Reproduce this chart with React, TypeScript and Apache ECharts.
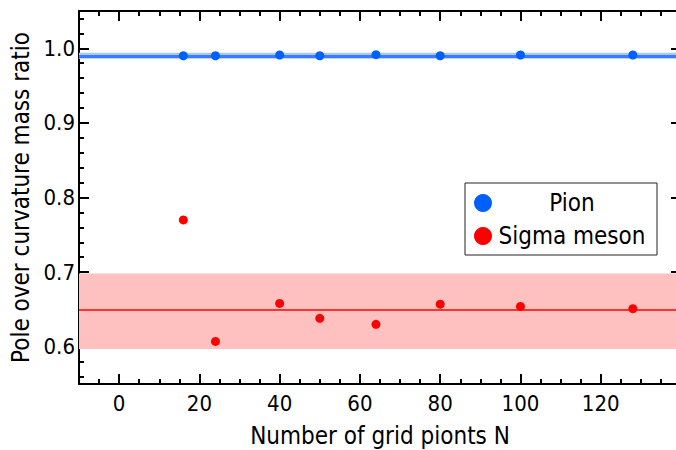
import React, { useEffect, useRef } from "react";
import * as echarts from "echarts";

const gridPoints = [16, 24, 40, 50, 64, 80, 100, 128];
const pionRatio = [0.99, 0.99, 0.991, 0.99, 0.9915, 0.99, 0.991, 0.991];
const sigmaRatio = [0.770, 0.607, 0.658, 0.638, 0.630, 0.657, 0.654, 0.651];
const pionFit = 0.990;
const pionBand = [0.986, 0.994];
const sigmaFit = 0.6465;
const sigmaBand = [0.597, 0.698];

const xMajorTicks = [0, 20, 40, 60, 80, 100, 120];
const xMinorTicks = [-5, 5, 10, 15, 25, 30, 35, 45, 50, 55, 65, 70, 75, 85, 90, 95, 105, 110, 115, 125, 130, 135];
const yMajorTicks = [0.6, 0.7, 0.8, 0.9, 1.0];
const yMinorTicks = [0.56, 0.58, 0.62, 0.64, 0.66, 0.68, 0.72, 0.74, 0.76, 0.78, 0.82, 0.84, 0.86, 0.88, 0.92, 0.94, 0.96, 0.98, 1.02, 1.04];

const FONT = "'DejaVu Sans Condensed', 'DejaVu Sans', sans-serif";

export default function App() {
  const ref = useRef<HTMLDivElement>(null);
  useEffect(() => {
    if (!ref.current) return;
    const chart = echarts.init(ref.current, undefined, { renderer: "svg" });
    const line = { show: true, onZero: false, lineStyle: { color: "#000", width: 2 } };
    const noLine = { show: false, onZero: false };
    const mkX = (pos: string, major: boolean, withLabel: boolean, withName: boolean) => ({
      type: "value",
      position: pos,
      min: -10,
      max: 140,
      axisLine: major ? line : noLine,
      axisTick: {
        show: true,
        inside: true,
        length: major ? 10 : 5,
        customValues: major ? xMajorTicks : xMinorTicks,
        lineStyle: { color: "#000", width: 2 },
      },
      axisLabel: withLabel
        ? { show: true, customValues: xMajorTicks, fontSize: 22, color: "#000", fontFamily: FONT, margin: 8 }
        : { show: false },
      splitLine: { show: false },
      name: withName ? "Number of grid pionts N" : "",
      nameLocation: "middle",
      nameGap: 40,
      nameTextStyle: { fontSize: 24, color: "#000", fontFamily: FONT },
    });
    const mkY = (pos: string, major: boolean, withLabel: boolean, withName: boolean) => ({
      type: "value",
      position: pos,
      min: 0.55,
      max: 1.05,
      axisLine: major ? line : noLine,
      axisTick: {
        show: true,
        inside: true,
        length: major ? 10 : 5,
        customValues: major ? yMajorTicks : yMinorTicks,
        lineStyle: { color: "#000", width: 2 },
      },
      axisLabel: withLabel
        ? {
            show: true,
            customValues: yMajorTicks,
            fontSize: 22,
            color: "#000",
            fontFamily: FONT,
            margin: 4,
            formatter: (v: number) => v.toFixed(1),
          }
        : { show: false },
      splitLine: { show: false },
      name: withName ? "Pole over curvature mass ratio" : "",
      nameLocation: "middle",
      nameRotate: 90,
      nameGap: 45,
      nameTextStyle: { fontSize: 24, color: "#000", fontFamily: FONT },
    });
    chart.setOption({
      animation: false,
      grid: { left: 79, top: 11, width: 602, height: 373, containLabel: false, outerBoundsMode: "none" },
      xAxis: [
        mkX("bottom", true, true, true),
        mkX("bottom", false, false, false),
        mkX("top", true, false, false),
        mkX("top", false, false, false),
      ],
      yAxis: [
        mkY("left", true, true, true),
        mkY("left", false, false, false),
        mkY("right", true, false, false),
        mkY("right", false, false, false),
      ],
      legend: {
        left: 465,
        top: 183,
        orient: "vertical",
        backgroundColor: "#fff",
        borderColor: "#222",
        borderWidth: 1,
        borderRadius: 0,
        padding: [8, 10, 7, 9],
        itemGap: 9,
        itemWidth: 18,
        itemHeight: 18,
        icon: "circle",
        formatter: "{a|{name}}",
        textStyle: {
          rich: {
            a: { width: 150, align: "center", fontSize: 24, color: "#000", fontFamily: FONT, lineHeight: 18 },
          },
        },
        data: ["Pion", "Sigma meson"],
      },
      series: [
        {
          name: "Pion",
          type: "scatter",
          symbolSize: 9,
          itemStyle: { color: "#0060ff", opacity: 1 },
          data: gridPoints.map((x, i) => [x, pionRatio[i]]),
          z: 5,
          markArea: {
            silent: true,
            itemStyle: { color: "#a8c6ff", opacity: 1 },
            data: [[{ yAxis: pionBand[0] }, { yAxis: pionBand[1] }]],
          },
          markLine: {
            silent: true,
            symbol: "none",
            label: { show: false },
            lineStyle: { color: "#3a7cff", width: 3, type: "solid", opacity: 1 },
            data: [{ yAxis: pionFit }],
          },
        },
        {
          name: "Sigma meson",
          type: "scatter",
          symbolSize: 9,
          itemStyle: { color: "#ff0000", opacity: 1 },
          data: gridPoints.map((x, i) => [x, sigmaRatio[i]]),
          z: 5,
          markArea: {
            silent: true,
            itemStyle: { color: "#ffc0c0", opacity: 1 },
            data: [[{ yAxis: sigmaBand[0] }, { yAxis: sigmaBand[1] }]],
          },
          markLine: {
            silent: true,
            symbol: "none",
            label: { show: false },
            lineStyle: { color: "#ff3333", width: 2, type: "solid", opacity: 1 },
            data: [{ yAxis: sigmaFit }],
          },
        },
      ],
    });
    return () => chart.dispose();
  }, []);
  return <div ref={ref} style={{ width: 676, height: 450, position: "absolute", left: 0, top: 0 }} />;
}
